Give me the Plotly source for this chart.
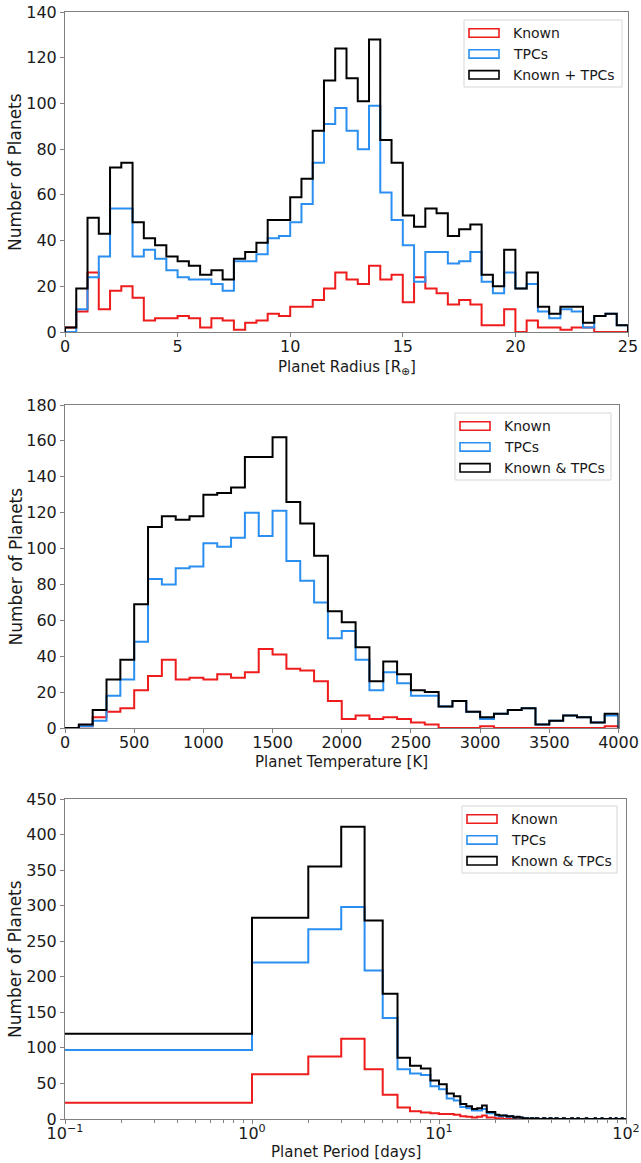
import numpy as np
import plotly.graph_objects as go

W, H = 641, 1163

# ---------------- data ----------------
# Panel 1: planet radius, bins of 0.5 R_earth from 0 to 25
radius_edges = np.arange(0, 25.01, 0.5)
radius_known = [2, 9, 26, 10, 18, 20, 15, 5, 6, 6, 7, 6, 2, 6, 5, 1, 4, 5, 8, 7,
                11, 11, 14, 19, 26, 23, 21, 29, 23, 25, 13, 24, 19, 17, 12, 14, 12, 3, 3, 10,
                0, 5, 2, 2, 1, 2, 2, 0, 0, 0]
radius_tpcs = [0, 10, 24, 33, 54, 54, 33, 36, 32, 27, 24, 23, 23, 21, 18, 31, 31, 34, 41, 42,
               48, 56, 74, 91, 98, 88, 80, 99, 61, 49, 38, 22, 35, 35, 30, 31, 35, 22, 17, 26,
               19, 21, 9, 6, 10, 9, 2, 7, 8, 3]
radius_all = [2, 19, 50, 43, 72, 74, 48, 41, 38, 33, 31, 29, 25, 27, 23, 32, 35, 39, 49, 49,
              59, 67, 88, 110, 124, 111, 101, 128, 84, 74, 51, 46, 54, 52, 42, 45, 47, 25, 20, 36,
              19, 26, 11, 8, 11, 11, 4, 7, 8, 3]

# Panel 2: planet temperature, bins of 100 K from 0 to 4000
temp_edges = np.arange(0, 4001, 100)
temp_known = [0, 1, 6, 9, 11, 21, 29, 38, 27, 28, 27, 30, 28, 31, 44, 41, 33, 32, 26, 15,
              5, 7, 5, 6, 5, 3, 2, 0, 0, 0, 1, 0, 0, 0, 0, 0, 0, 0, 0, 1]
temp_tpcs = [0, 1, 4, 18, 27, 48, 83, 80, 89, 90, 103, 101, 106, 120, 107, 121, 93, 82, 70, 50,
             54, 38, 21, 31, 25, 18, 18, 12, 15, 9, 5, 8, 10, 11, 2, 4, 7, 6, 3, 7]
temp_all = [0, 2, 10, 27, 38, 69, 112, 118, 116, 118, 130, 131, 134, 151, 151, 162, 126, 114, 96, 65,
            59, 45, 26, 37, 30, 21, 20, 12, 15, 9, 6, 8, 10, 11, 2, 4, 7, 6, 3, 8]

# Panel 3: planet period, bins of 1 day from 0 to 100 (log axis)
period_edges = np.arange(0, 101, 1)
period_known = [23, 63, 88, 113, 70, 34, 16, 11, 9, 8, 7, 7, 6, 4, 3, 2, 3, 5, 2, 2,
                1, 1, 0, 1, 0, 0, 1, 0, 0, 0,
                0, 0, 0, 0, 0, 0, 0, 0, 0, 0,
                0, 0, 0, 0, 0, 0, 0, 0, 0, 0,
                0, 0, 0, 0, 0, 0, 0, 0, 0, 0,
                0, 0, 0, 0, 0, 0, 0, 0, 0, 0,
                0, 0, 0, 0, 0, 0, 0, 0, 0, 0,
                0, 0, 0, 0, 0, 0, 0, 0, 0, 0,
                0, 0, 0, 0, 0, 0, 0, 0, 0, 0]
period_tpcs = [97, 220, 267, 298, 209, 142, 70, 64, 62, 46, 42, 29, 26, 17, 15, 12, 12, 14, 8, 8,
               5, 4, 5, 3, 4, 2, 2, 2, 1, 1,
               0, 1, 0, 1, 0, 0, 1, 0, 0, 1,
               0, 0, 1, 0, 0, 0, 1, 0, 0, 0,
               0, 1, 0, 0, 0, 1, 0, 0, 0, 0,
               0, 1, 0, 0, 0, 0, 0, 0, 1, 0,
               0, 0, 0, 0, 1, 0, 0, 0, 0, 0,
               0, 0, 1, 0, 0, 0, 0, 0, 1, 0,
               0, 0, 0, 0, 0, 1, 0, 0, 0, 0]
period_all = [120, 283, 355, 411, 279, 176, 86, 75, 71, 54, 49, 36, 32, 21, 18, 14, 15, 19, 10, 10,
              6, 5, 5, 4, 4, 2, 3, 2, 1, 1,
              0, 1, 0, 1, 0, 0, 1, 0, 0, 1,
              0, 0, 1, 0, 0, 0, 1, 0, 0, 0,
              0, 1, 0, 0, 0, 1, 0, 0, 0, 0,
              0, 1, 0, 0, 0, 0, 0, 0, 1, 0,
              0, 0, 0, 0, 1, 0, 0, 0, 0, 0,
              0, 0, 1, 0, 0, 0, 0, 0, 1, 0,
              0, 0, 0, 0, 0, 1, 0, 0, 0, 0]

series_names = ["Known", "TPCs"]
all_names = ["Known + TPCs", "Known &amp; TPCs", "Known &amp; TPCs"]
x_titles = ["Planet Radius [R<sub>⊕</sub>]", "Planet Temperature [K]", "Planet Period [days]"]
y_title = "Number of Planets"

RED = "#ee1c1c"
BLUE = "#2a8ff0"
BLACK = "#000000"
colors = [RED, BLUE, BLACK]

FONT = "DejaVu Sans"
TXT = "#1a1a1a"
SPINE = "#808080"


def step_xy(edges, counts, log=False):
    e = [float(v) for v in edges]
    if log:
        e = [v if v > 0 else 1e-3 for v in e]
    x = [e[0]] + e[:-1] + [e[-1], e[-1]]
    y = [0] + list(counts) + [counts[-1], 0]
    return x, y


fig = go.Figure()

panels = [
    dict(edges=radius_edges, data=[radius_known, radius_tpcs, radius_all], log=False,
         box=(65, 628, 12, 332), xr=[0, 25], yr=[0, 140], ydt=20, xt_y=367,
         leg=(464, 622, 20, 87)),
    dict(edges=temp_edges, data=[temp_known, temp_tpcs, temp_all], log=False,
         box=(65, 618.5, 405, 728), xr=[0, 4000], yr=[0, 180], ydt=20, xt_y=762,
         leg=(455, 611, 413, 480)),
    dict(edges=period_edges, data=[period_known, period_tpcs, period_all], log=True,
         box=(65, 626, 799, 1119), xr=[-1, 2], yr=[0, 450], ydt=50, xt_y=1152,
         leg=(462, 617, 806, 873)),
]

shapes = []
annotations = []

for i, p in enumerate(panels):
    sfx = "" if i == 0 else str(i + 1)
    for j, counts in enumerate(p["data"]):
        x, y = step_xy(p["edges"], counts, log=p["log"])
        fig.add_trace(go.Scatter(x=x, y=y, mode="lines", line_shape="hv",
                                 line=dict(color=colors[j], width=2),
                                 hoverinfo="skip", showlegend=False,
                                 xaxis="x" + sfx, yaxis="y" + sfx))
    x0, x1, y0, y1 = p["box"]
    xa = dict(domain=[x0 / W, x1 / W], anchor="y" + sfx, range=p["xr"], automargin=False,
              showline=True, linecolor=SPINE, linewidth=1, mirror=True,
              ticks="outside", ticklen=4, tickwidth=1, tickcolor=SPINE,
              ticklabelstandoff=-4,
              showgrid=False, zeroline=False,
              tickfont=dict(family=FONT, size=16, color=TXT))
    if p["log"]:
        xa.update(type="log", tickmode="array", tickvals=[0.1, 1, 10, 100],
                  ticktext=["10<sup>−1</sup>", "10<sup>0</sup>", "10<sup>1</sup>", "10<sup>2</sup>"],
                  minor=dict(tickmode="array",
                             tickvals=[k * 0.1 for k in range(2, 10)] + list(range(2, 10)) + [k * 10 for k in range(2, 10)],
                             ticks="outside", ticklen=2.5, tickcolor=SPINE))
    else:
        xa.update(tickmode="linear", tick0=0, dtick=(5 if i == 0 else 500))
    ya = dict(domain=[1 - y1 / H, 1 - y0 / H], anchor="x" + sfx, range=p["yr"], automargin=False,
              showline=True, linecolor=SPINE, linewidth=1, mirror=True,
              ticks="outside", ticklen=4, tickwidth=1, tickcolor=SPINE,
              showgrid=False, zeroline=False, tickmode="linear", tick0=0, dtick=p["ydt"],
              tickfont=dict(family=FONT, size=16, color=TXT))
    fig.layout["xaxis" + sfx] = xa
    fig.layout["yaxis" + sfx] = ya

    # axis titles
    annotations.append(dict(xref="paper", yref="paper", x=((x0 + x1) / 2) / W, y=1 - p["xt_y"] / H,
                            xanchor="center", yanchor="middle", showarrow=False,
                            text=x_titles[i], font=dict(family=FONT, size=15, color=TXT)))
    annotations.append(dict(xref="paper", yref="paper", x=15 / W, y=1 - ((y0 + y1) / 2) / H,
                            xanchor="center", yanchor="middle", showarrow=False, textangle=-90,
                            text=y_title, font=dict(family=FONT, size=17, color=TXT)))

    # legend (matplotlib-style box with outlined patches)
    lx0, lx1, ly0, ly1 = p["leg"]
    shapes.append(dict(type="rect", xref="paper", yref="paper",
                       x0=lx0 / W, x1=lx1 / W, y0=1 - ly1 / H, y1=1 - ly0 / H,
                       line=dict(color="#d6d6d6", width=1), fillcolor="rgba(255,255,255,0.85)",
                       layer="above"))
    labels = series_names + [all_names[i]]
    row_h = (ly1 - ly0) / 3.2
    for j in range(3):
        cy = ly0 + row_h * (0.62 + j)
        shapes.append(dict(type="rect", xref="paper", yref="paper",
                           x0=(lx0 + 5) / W, x1=(lx0 + 35) / W,
                           y0=1 - (cy + 4.2) / H, y1=1 - (cy - 4.2) / H,
                           line=dict(color=colors[j], width=1.6), fillcolor="rgba(0,0,0,0)",
                           layer="above"))
        annotations.append(dict(xref="paper", yref="paper", x=(lx0 + 47) / W, y=1 - cy / H,
                                xanchor="left", yanchor="middle", showarrow=False,
                                text=labels[j], font=dict(family=FONT, size=14, color=TXT)))

fig.update_layout(width=W, height=H, margin=dict(l=0, r=0, t=0, b=0),
                  paper_bgcolor="white", plot_bgcolor="white", showlegend=False,
                  shapes=shapes, annotations=annotations)

fig.write_html("out.html")
